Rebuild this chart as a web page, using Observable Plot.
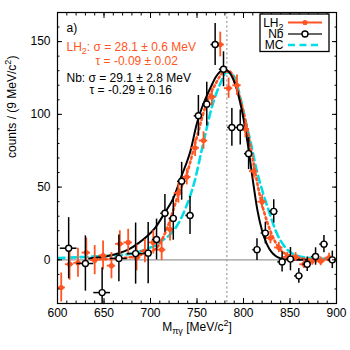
<!DOCTYPE html>
<html>
<head>
<meta charset="utf-8">
<script src="https://cdn.jsdelivr.net/npm/d3@7"></script>
<script src="https://cdn.jsdelivr.net/npm/@observablehq/plot@0.6"></script>
<style>
  html, body { margin: 0; padding: 0; background: white; }
</style>
</head>
<body>
<div id="chart"></div>
<script>
// ---------- data ----------
// LH2 data points (orange, filled)
const lh2Mass   = [604, 613, 622, 631, 640, 649, 658, 667, 676, 685, 694, 703, 712, 721, 730, 739, 748, 757, 766, 775, 784, 793, 802, 811, 820, 829, 838, 847, 856, 865, 874, 883, 892];
const lh2Counts = [-19, -3, -2, 5, -0.2, 3, -4, 11, 12, 1.5, 6, 12, 7, 21, 46, 57, 77, 82, 112, 148, 118, 120, 90, 61, 40, 15, 8.5, 2, 2, -3, -0.7, -1, 1.5];
const lh2Err    = [10, 11, 10, 10, 10, 10, 9, 9, 9, 9, 8, 8, 7.5, 8, 7, 5.5, 6, 6, 6, 8.5, 7, 7, 6, 5.5, 4.6, 4, 3.5, 3, 3, 3, 3, 3, 3];
const lh2HalfBin = 4.5;

// Nb data points (black, open)
const nbMass    = [612, 630, 648, 666, 684, 697.5, 706.5, 715.5, 724.5, 733.5, 742.5, 751.5, 760.5, 769.5, 778.5, 787.5, 796.5, 805.5, 814.5, 823.5, 832.5, 841.5, 850.5, 859.5, 868.5, 877.5, 886.5, 895.5];
const nbCounts  = [8, -2.5, -22.5, 1, 4.3, 4.6, 14, 32, 28.5, 54, 30.5, 99, 107, 148, 131, 91, 91, 73, 7, 18.4, 33.3, -1.4, 0.5, -11, -3, 2.3, 10.8, 0];
const nbErr     = [21, 19, 17, 16, 21, 21, 14, 13, 15, 13, 13, 14, 15, 14.5, 12, 13, 12, 11, 7.5, 7.5, 8, 7, 8, 5, 5, 6, 6, 6];
const nbHalfBin = [9, 9, 9, 9, 9, 4.5, 4.5, 4.5, 4.5, 4.5, 4.5, 4.5, 4.5, 4.5, 4.5, 4.5, 4.5, 4.5, 4.5, 4.5, 4.5, 4.5, 4.5, 4.5, 4.5, 4.5, 4.5, 4.5];

// Fit curves
const nbFitMass  = [634, 645, 655, 666, 676, 686, 696, 705, 715, 725, 733, 743, 750, 755, 760, 765, 770, 775, 779, 784, 789, 795, 800, 805, 810, 815, 820, 825, 830, 835, 840, 847, 855, 867];
const nbFitCount = [1, 1.8, 2.8, 4.5, 7, 11, 16, 22, 32, 43, 57, 75, 94, 104, 112, 119, 125.5, 129.5, 131, 129.5, 124, 112, 97, 78, 55, 34, 20, 11, 5.5, 2.5, 1, 0.2, 0, 0];

const lh2FitMass  = [640, 660, 680, 695, 707, 718, 730, 740, 748, 759, 770, 779, 785, 790, 795, 802, 810, 818, 826, 834, 843, 854, 868, 885, 900];
const lh2FitCount = [0.2, 0.8, 2, 4.5, 8.5, 22, 45, 61, 80, 105, 121, 129, 129.5, 124, 114, 96, 69, 43, 25, 12.5, 5, 2.3, 0.5, 0.1, 0];

const mcMass  = [600, 630, 660, 682, 700, 706, 711, 722, 730, 738, 747, 756, 766, 775, 782, 790, 796, 802, 808, 814, 820, 827, 836, 845, 858, 872, 885, 897];
const mcCount = [1.2, 2, 3, 4.5, 8.5, 10, 12.5, 18, 25, 36, 53, 78, 105, 121, 129, 126, 113, 96, 80, 62, 48, 34, 18, 8.5, 2.8, 1.2, 0.7, 0.5];

const omegaMass = [782];
const xMajorTicks = [600, 650, 700, 750, 800, 850, 900];
const xMinorTicks = d3.range(600, 901, 10);
const yMajorTicks = [0, 50, 100, 150];
const yMinorTicks = d3.range(-30, 171, 10);

const legendLabels = ["LH_{2}", "Nb", "MC"];
const texts = {
  panel: "a)",
  lh2Sigma: "LH_{2}: σ = 28.1 ± 0.6 MeV",
  lh2Tau: "τ = -0.09 ± 0.02",
  nbSigma: "Nb: σ = 29.1 ± 2.8 MeV",
  nbTau: "τ = -0.29 ± 0.16",
  xLabel: "M_{πγ} [MeV/c^{2}]",
  yLabel: "counts / (9 MeV/c^{2})"
};

const ORANGE = "#ff5522";
const CYAN = "#00dde6";

// ---------- build tables ----------
const lh2 = lh2Mass.map((m, i) => ({m, v: lh2Counts[i], e: lh2Err[i], h: lh2HalfBin}));
const nb = nbMass.map((m, i) => ({m, v: nbCounts[i], e: nbErr[i], h: nbHalfBin[i]}));
const nbFit = nbFitMass.map((m, i) => ({m, v: nbFitCount[i]}));
const lh2Fit = lh2FitMass.map((m, i) => ({m, v: lh2FitCount[i]}));
const mcFit = mcMass.map((m, i) => ({m, v: mcCount[i]}));

const chart = Plot.plot({
  width: 350,
  height: 350,
  marginLeft: 57,
  marginRight: 14,
  marginTop: 12,
  marginBottom: 47,
  style: {fontFamily: "'Liberation Sans', Arial, Helvetica, sans-serif", fontSize: "12px", background: "white", color: "black"},
  x: {domain: [600, 900], label: null},
  y: {domain: [-30, 170], label: null},
  marks: [
    Plot.ruleY([0], {stroke: "#999", strokeWidth: 1.2}),
    Plot.ruleX(omegaMass, {stroke: "#b0b0b0", strokeWidth: 1.6, strokeDasharray: "2,2.5"}),
    Plot.line(mcFit, {x: "m", y: "v", stroke: CYAN, strokeWidth: 2.6, strokeDasharray: "7,4.5", curve: "monotone-x", clip: true}),
    Plot.line(lh2Fit, {x: "m", y: "v", stroke: ORANGE, strokeWidth: 2.6, strokeDasharray: "2,3", curve: "monotone-x", clip: true}),
    Plot.line(nbFit, {x: "m", y: "v", stroke: "black", strokeWidth: 2, curve: "monotone-x", clip: true}),
    // LH2 points
    Plot.ruleX(lh2, {x: "m", y1: d => d.v - d.e, y2: d => d.v + d.e, stroke: ORANGE, strokeWidth: 1.8, clip: true}),
    Plot.ruleY(lh2, {y: "v", x1: d => d.m - d.h, x2: d => d.m + d.h, stroke: ORANGE, strokeWidth: 1.8, clip: true}),
    Plot.dot(lh2, {x: "m", y: "v", r: 2.6, fill: ORANGE, clip: true}),
    // Nb points
    Plot.ruleX(nb, {x: "m", y1: d => d.v - d.e, y2: d => d.v + d.e, stroke: "black", strokeWidth: 1.5, clip: true}),
    Plot.ruleY(nb, {y: "v", x1: d => d.m - d.h, x2: d => d.m + d.h, stroke: "black", strokeWidth: 1.5, clip: true}),
    Plot.dot(nb, {x: "m", y: "v", r: 3, fill: "white", stroke: "black", strokeWidth: 1.4, clip: true}),
    Plot.frame({stroke: "black", strokeWidth: 1.2}),
    // inward ticks on all four sides
    Plot.axisX({anchor: "bottom", ticks: xMajorTicks, tickSize: -5, tickFormat: () => "", label: null}),
    Plot.axisX({anchor: "bottom", ticks: xMinorTicks, tickSize: -2.5, tickFormat: () => "", label: null}),
    Plot.axisX({anchor: "top", ticks: xMajorTicks, tickSize: -5, tickFormat: () => "", label: null}),
    Plot.axisX({anchor: "top", ticks: xMinorTicks, tickSize: -2.5, tickFormat: () => "", label: null}),
    Plot.axisY({anchor: "left", ticks: yMajorTicks, tickSize: -5, tickFormat: () => "", label: null}),
    Plot.axisY({anchor: "left", ticks: yMinorTicks, tickSize: -2.5, tickFormat: () => "", label: null}),
    Plot.axisY({anchor: "right", ticks: yMajorTicks, tickSize: -5, tickFormat: () => "", label: null}),
    Plot.axisY({anchor: "right", ticks: yMinorTicks, tickSize: -2.5, tickFormat: () => "", label: null}),
    // tick labels
    Plot.axisX({anchor: "bottom", ticks: xMajorTicks, tickSize: 0, tickPadding: 5, label: null, fontSize: 12}),
    Plot.axisY({anchor: "left", ticks: yMajorTicks, tickSize: 0, tickPadding: 7, label: null, fontSize: 12}),
    // axis titles
    Plot.text([texts.xLabel], {frameAnchor: "bottom", dy: 27, fontSize: 12, text: d => d}),
    Plot.text([texts.yLabel], {frameAnchor: "left", dx: -45, rotate: -90, fontSize: 12, text: d => d}),
    // annotations
    Plot.text([texts.panel], {frameAnchor: "top-left", dx: 9, dy: 15.7, textAnchor: "start", lineAnchor: "middle", fontSize: 12, text: d => d}),
    Plot.text([texts.lh2Sigma], {frameAnchor: "top-left", dx: 9, dy: 34.5, textAnchor: "start", lineAnchor: "middle", fontSize: 12, fill: ORANGE, text: d => d}),
    Plot.text([texts.lh2Tau], {frameAnchor: "top-left", dx: 38, dy: 48.5, textAnchor: "start", lineAnchor: "middle", fontSize: 12, fill: ORANGE, text: d => d}),
    Plot.text([texts.nbSigma], {frameAnchor: "top-left", dx: 9, dy: 65.5, textAnchor: "start", lineAnchor: "middle", fontSize: 12, text: d => d}),
    Plot.text([texts.nbTau], {frameAnchor: "top-left", dx: 32, dy: 77.5, textAnchor: "start", lineAnchor: "middle", fontSize: 12, text: d => d})
  ]
});

// ---------- legend (drawn in the plot's SVG) ----------
const svg = d3.select(chart);
const lg = svg.append("g").attr("class", "legend");
const box = {x: 260, y: 14, w: 69, h: 37.5};
lg.append("rect").attr("x", box.x).attr("y", box.y).attr("width", box.w).attr("height", box.h)
  .attr("fill", "white").attr("stroke", "black").attr("stroke-width", 1.3);
const rowY = [22.5, 34, 45];
const styles = [
  {stroke: ORANGE, width: 1.8, dash: null, marker: "filled"},
  {stroke: "#333", width: 1.6, dash: null, marker: "open"},
  {stroke: CYAN, width: 2.6, dash: "7,4.5", marker: null}
];
legendLabels.forEach((lab, i) => {
  const y = rowY[i];
  lg.append("text").attr("x", 283.5).attr("y", y).attr("dy", "0.36em").attr("text-anchor", "end")
    .attr("font-size", 12).attr("data-raw", lab).text(lab);
  const s = styles[i];
  const ln = lg.append("line").attr("x1", 288).attr("x2", 322).attr("y1", y).attr("y2", y)
    .attr("stroke", s.stroke).attr("stroke-width", s.width);
  if (s.dash) ln.attr("stroke-dasharray", s.dash);
  if (s.marker === "filled") lg.append("circle").attr("cx", 305).attr("cy", y).attr("r", 2.6).attr("fill", ORANGE);
  if (s.marker === "open") lg.append("circle").attr("cx", 305).attr("cy", y).attr("r", 3).attr("fill", "white").attr("stroke", "black").attr("stroke-width", 1.4);
});

// ---------- sub/superscript rendering ----------
const NS = "http://www.w3.org/2000/svg";
function rich(el, str) {
  const re = /([_^])\{([^}]*)\}/g;
  const parts = [];
  let last = 0, m;
  while ((m = re.exec(str))) {
    if (m.index > last) parts.push({t: str.slice(last, m.index), k: null});
    parts.push({t: m[2], k: m[1]});
    last = re.lastIndex;
  }
  if (last < str.length) parts.push({t: str.slice(last), k: null});
  while (el.firstChild) el.removeChild(el.firstChild);
  let shift = 0;
  for (const p of parts) {
    const ts = document.createElementNS(NS, "tspan");
    const target = p.k === "_" ? 3 : p.k === "^" ? -5 : 0;
    if (target !== shift) ts.setAttribute("dy", target - shift);
    shift = target;
    if (p.k) ts.style.fontSize = "75%";
    ts.textContent = p.t;
    el.appendChild(ts);
  }
}
chart.querySelectorAll("text").forEach(el => {
  const s = el.getAttribute("data-raw") || el.textContent;
  if (/[_^]\{/.test(s)) rich(el, s);
});

document.getElementById("chart").appendChild(chart);
</script>
</body>
</html>
